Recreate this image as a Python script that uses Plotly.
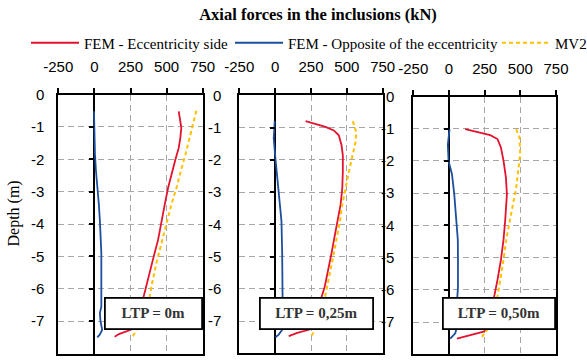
import plotly.graph_objects as go

# ---------------- data ----------------
PANEL_LABELS = ["LTP = 0m", "LTP = 0,25m", "LTP = 0,50m"]
SERIES_NAMES = ["FEM - Eccentricity side", "FEM - Opposite of the eccentricity", "MV2"]

# Panel 1 : LTP = 0 m
p1_red_depth = [-0.52, -0.83, -1.03, -1.34, -1.65, -2.01, -2.47, -2.89, -3.4, -3.9, -4.49, -5.0, -5.52, -6.03, -6.29, -6.7, -7.0, -7.15, -7.25, -7.32, -7.4, -7.48]
p1_red_force = [584, 598, 602, 595, 584, 561, 533, 510, 487, 466, 441, 411, 383, 353, 337, 315, 297, 286, 260, 215, 170, 140]
p1_blue_depth = [-0.52, -1.0, -1.34, -1.86, -2.37, -2.89, -3.4, -3.9, -4.4, -4.9, -5.5, -5.93, -6.55, -6.75, -7.0, -7.27, -7.42, -7.5]
p1_blue_force = [-3, -2, -1, 4, 11, 23, 31, 38, 45, 48, 48, 48, 48, 38, 42, 54, 37, 20]
p1_mv2_depth = [-0.5, -0.93, -1.34, -1.86, -2.37, -2.89, -3.4, -3.9, -4.59, -5.21, -5.93, -6.24, -6.6, -7.0, -7.27, -7.47]
p1_mv2_force = [706, 683, 660, 630, 598, 568, 533, 503, 464, 429, 395, 383, 352, 318, 291, 267]

# Panel 2 : LTP = 0,25 m
p2_red_depth = [-0.8, -0.9, -0.98, -1.09, -1.24, -1.55, -1.86, -2.37, -2.89, -3.4, -3.9, -4.39, -4.9, -5.42, -5.93, -6.26, -6.7, -7.0, -7.18, -7.27, -7.37, -7.47]
p2_red_force = [212, 281, 351, 409, 444, 463, 472, 472, 468, 456, 433, 414, 393, 370, 346, 323, 302, 288, 278, 235, 154, 95]
p2_blue_depth = [-0.8, -1.34, -1.96, -2.37, -2.89, -3.4, -3.9, -4.9, -5.93, -6.96, -7.27, -7.42, -7.5]
p2_blue_force = [-3, -10, 2, 11, 25, 37, 44, 49, 53, 53, 49, 25, 2]
p2_mv2_depth = [-0.8, -1.14, -1.44, -1.86, -2.37, -2.89, -3.4, -3.9, -4.39, -4.9, -5.42, -5.93, -6.24, -6.7, -7.0, -7.27, -7.45]
p2_mv2_force = [542, 565, 561, 538, 514, 491, 468, 452, 433, 409, 386, 363, 351, 327, 305, 281, 254]

# Panel 3 : LTP = 0,50 m
p3_red_depth = [-1.01, -1.09, -1.2, -1.32, -1.58, -1.99, -2.51, -3.03, -3.55, -3.84, -4.45, -5.07, -5.69, -6.21, -6.7, -7.0, -7.2, -7.3, -7.4, -7.51]
p3_red_force = [114, 196, 289, 340, 364, 382, 399, 406, 400, 394, 382, 364, 340, 317, 297, 285, 272, 242, 149, 56]
p3_blue_depth = [-1.01, -1.5, -2.0, -2.41, -3.03, -3.86, -4.45, -5.0, -5.9, -6.4, -7.15, -7.35, -7.51]
p3_blue_force = [4, -8, -3, 21, 37, 52, 62, 63, 63, 56, 56, 44, 9]
p3_mv2_depth = [-1.01, -1.27, -1.79, -2.31, -2.83, -3.35, -3.84, -4.45, -5.07, -5.69, -6.21, -6.7, -7.0, -7.25, -7.46]
p3_mv2_force = [471, 494, 499, 487, 471, 448, 425, 401, 382, 359, 340, 310, 290, 266, 231]

X_TICKS = [-250, 0, 250, 500, 750]
X_TICK_TEXT = ["-250", "0", "250", "500", "750"]
Y_TICKS = [0, -1, -2, -3, -4, -5, -6, -7, -8]
Y_TICK_TEXT = ["0", "-1", "-2", "-3", "-4", "-5", "-6", "-7", "-8"]
ZERO_TICKS = [-1, -2, -3, -4, -5, -6, -7]
X_RANGE = [-250, 750]
Y_RANGE = [-8, 0]

panels = [
    (p1_red_depth, p1_red_force, p1_blue_depth, p1_blue_force, p1_mv2_depth, p1_mv2_force),
    (p2_red_depth, p2_red_force, p2_blue_depth, p2_blue_force, p2_mv2_depth, p2_mv2_force),
    (p3_red_depth, p3_red_force, p3_blue_depth, p3_blue_force, p3_mv2_depth, p3_mv2_force),
]

# ---------------- layout geometry (pixels) ----------------
W, H = 587, 361
def fx(px):
    return px / W
def fy(py):
    return (H - py) / H

PANEL_X_PX = [(58.3, 202.7), (239.3, 382.7), (413.3, 556.0)]
PANEL_Y_PX = [(94.5, 353.5), (95.3, 353.3), (96.5, 354.3)]
BOX_PX = [(153.5, 313.5, 95), (316.5, 313.5, 111), (499.0, 313.0, 110)]
YLABEL_STANDOFF = [9, 13, 14]
LEGEND_X_PX = [26, 230, 497]

RED = "#E3122D"
BLUE = "#1B4F9C"
GOLD = "#FFC000"
SANS = "Liberation Sans"
SERIF = "Liberation Serif"
COLORS = [RED, BLUE, GOLD]
DASHES = ["solid", "solid", "4px,3px"]
WIDTHS = [1.8, 1.8, 2.0]
LEGEND_IDS = ["legend", "legend2", "legend3"]

fig = go.Figure()
layout = dict(
    width=W, height=H,
    margin=dict(l=0, r=0, t=0, b=0, autoexpand=False),
    paper_bgcolor="white", plot_bgcolor="white",
    showlegend=True,
)
annotations = []

for i, (rd, rf, bd, bf, md, mf) in enumerate(panels):
    n = i + 1
    xs = "x" if n == 1 else f"x{n}"
    ys = "y" if n == 1 else f"y{n}"
    series = [(rf, rd), (bf, bd), (mf, md)]
    for k, (fv, dv) in enumerate(series):
        fig.add_trace(go.Scatter(
            x=fv, y=dv, mode="lines", name=SERIES_NAMES[k],
            line=dict(color=COLORS[k], width=WIDTHS[k], dash=DASHES[k]),
            xaxis=xs, yaxis=ys, showlegend=(n == 1), legend=LEGEND_IDS[k],
        ))

    x0, x1 = PANEL_X_PX[i]
    yt, yb = PANEL_Y_PX[i]
    xdom = [fx(x0), fx(x1)]
    ydom = [fy(yb), fy(yt)]
    xkey = "xaxis" if n == 1 else f"xaxis{n}"
    ykey = "yaxis" if n == 1 else f"yaxis{n}"
    layout[xkey] = dict(
        domain=xdom, range=X_RANGE, side="top", anchor=ys, automargin=False,
        tickmode="array", tickvals=X_TICKS, ticktext=X_TICK_TEXT,
        ticks="outside", ticklen=5, tickwidth=1.5, tickcolor="black",
        ticklabelstandoff=10,
        showline=True, linecolor="black", linewidth=1.8, mirror=True,
        showgrid=True, gridcolor="#A6A6A6", gridwidth=1.3, griddash="6px,4px",
        zeroline=True, zerolinecolor="black", zerolinewidth=1.6,
        tickfont=dict(family=SANS, size=15, color="black"),
        fixedrange=True,
    )
    layout[ykey] = dict(
        domain=ydom, range=Y_RANGE, anchor=xs, automargin=False,
        tickmode="array", tickvals=Y_TICKS, ticktext=Y_TICK_TEXT,
        ticks="", showline=True, linecolor="black", linewidth=1.8, mirror=True,
        showgrid=True, gridcolor="#A6A6A6", gridwidth=1.3, griddash="6px,4px",
        zeroline=False, ticklabelstandoff=YLABEL_STANDOFF[i],
        tickfont=dict(family=SANS, size=15, color="black"),
        fixedrange=True,
    )
    # tick marks on the zero line
    zero_px = x0 + (0 - X_RANGE[0]) / (X_RANGE[1] - X_RANGE[0]) * (x1 - x0)
    tkey = f"yaxis{3 + n}"
    layout[tkey] = dict(
        domain=ydom, range=Y_RANGE, overlaying=ys, anchor="free", position=fx(zero_px),
        side="left", tickmode="array", tickvals=ZERO_TICKS, ticks="outside", ticklen=5,
        tickwidth=1.6, tickcolor="black", showticklabels=False, showgrid=False,
        zeroline=False, showline=False, fixedrange=True, automargin=False,
    )
    fig.add_trace(go.Scatter(x=[None], y=[None], xaxis=xs, yaxis=f"y{3 + n}",
                             showlegend=False, hoverinfo="skip"))

    cx, cy, bw = BOX_PX[i]
    annotations.append(dict(
        text="<b>" + PANEL_LABELS[i] + "</b>", xref="paper", yref="paper",
        x=fx(cx), y=fy(cy), xanchor="center", yanchor="middle", showarrow=False,
        width=bw, height=29, align="center", valign="middle",
        bgcolor="white", bordercolor="black", borderwidth=1.8, borderpad=0,
        font=dict(family=SERIF, size=15, color="#333333"),
    ))

annotations.append(dict(
    text="Depth (m)", xref="paper", yref="paper", x=fx(13), y=fy(213.5),
    xanchor="center", yanchor="middle", textangle=-90, showarrow=False,
    font=dict(family=SERIF, size=16, color="black"),
))

layout["annotations"] = annotations
layout["title"] = dict(
    text="<b>Axial forces in the inclusions (kN)</b>", x=fx(318), y=fy(14),
    xanchor="center", yanchor="middle", xref="paper", yref="paper",
    font=dict(family=SERIF, size=16.5, color="black"),
)
for k, lid in enumerate(LEGEND_IDS):
    layout[lid] = dict(
        orientation="h", x=fx(LEGEND_X_PX[k]), xanchor="left", y=fy(43), yanchor="middle",
        font=dict(family=SERIF, size=15, color="black"), itemwidth=48,
        bgcolor="rgba(0,0,0,0)", borderwidth=0,
    )
layout["legend3"]["entrywidth"] = 30

fig.update_layout(**layout)
fig.write_html("out.html")
